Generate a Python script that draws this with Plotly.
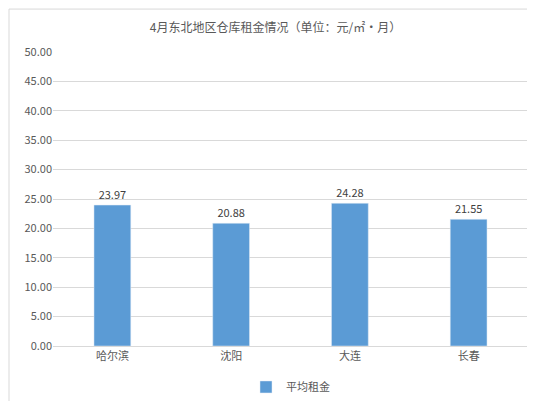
import plotly.graph_objects as go

cities = ["哈尔滨", "沈阳", "大连", "长春"]
rent = [23.97, 20.88, 24.28, 21.55]
y_ticks = [0, 5, 10, 15, 20, 25, 30, 35, 40, 45, 50]

fig = go.Figure(go.Bar(
    x=cities, y=rent, name="平均租金", width=0.31,
    marker_color="#5B9BD5",
    text=[f"{v:.2f}" for v in rent], textposition="outside",
    textfont=dict(size=11, color="#404040"),
))

fig.update_layout(
    width=535, height=401,
    paper_bgcolor="white", plot_bgcolor="white",
    font=dict(family="Noto Sans CJK SC", size=11, color="#595959"),
    title=dict(text="4月东北地区仓库租金情况（单位：元/㎡·月）", x=0.5, y=0.96,
               xanchor="center", font=dict(size=12, color="#595959")),
    margin=dict(l=45, r=15, t=44, b=63, autoexpand=False),
    showlegend=True,
    legend=dict(orientation="h", x=0.5, xanchor="center", y=-0.09, yanchor="top",
                font=dict(size=11), itemwidth=30),
    shapes=[dict(type="rect", xref="paper", yref="paper", x0=-0.0926, x1=1.029,
                 y0=-0.211, y1=1.146, line=dict(color="#d9d9d9", width=1))],
)
fig.update_yaxes(range=[0, 50], tickvals=y_ticks, tickformat=".2f", automargin=False,
                 gridcolor="#d9d9d9", zeroline=False, showline=False)
fig.update_xaxes(showline=True, linecolor="#d9d9d9", ticks="", automargin=False)

fig.write_html("out.html")
